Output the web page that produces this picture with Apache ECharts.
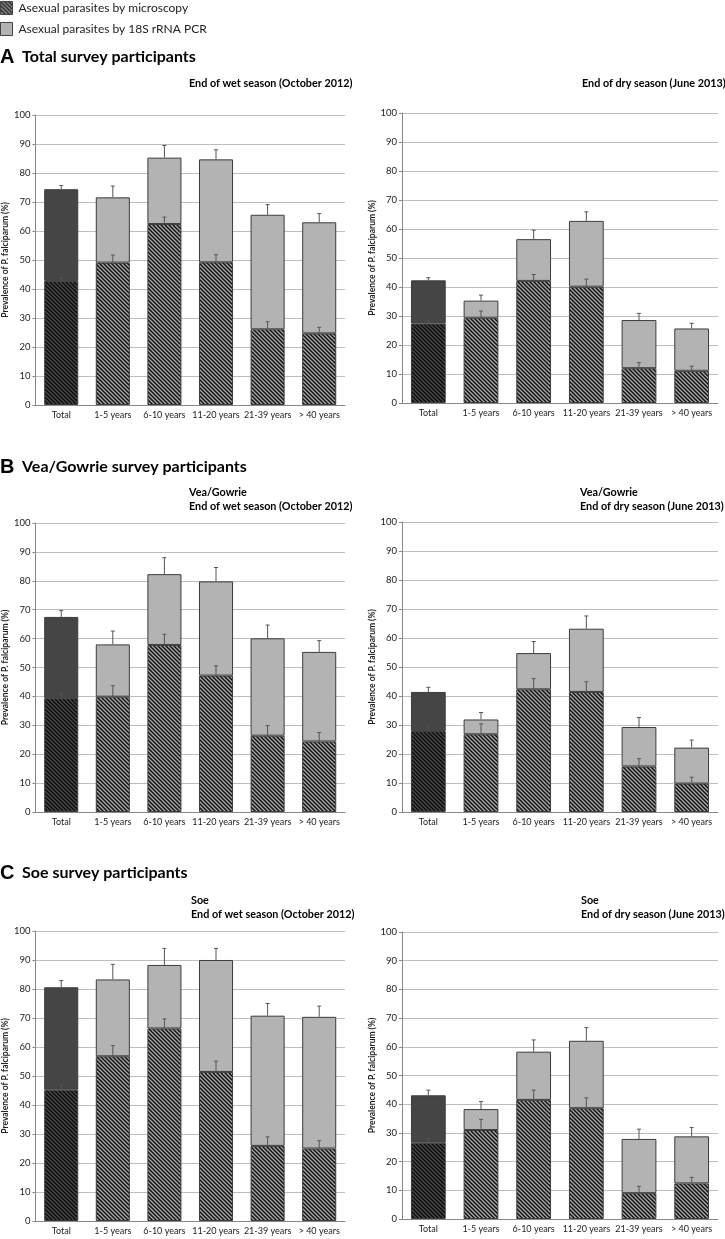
<!DOCTYPE html>
<html>
<head>
<meta charset="utf-8">
<script src="https://cdn.jsdelivr.net/npm/echarts@6/dist/echarts.min.js"></script>
<style>
html,body{margin:0;padding:0;background:#fff;}
#chart{width:725px;height:1239px;}
</style>
</head>
<body>
<div id="chart"></div>
<script>
// ---- Data ----
const categories = ['Total', '1-5 years', '6-10 years', '11-20 years', '21-39 years', '> 40 years'];
const yTicks = [0, 10, 20, 30, 40, 50, 60, 70, 80, 90, 100];

// Panel A: total survey participants
const aWetPcr      = [74.4, 71.6, 85.3, 84.7, 65.6, 63.0];
const aWetMicro    = [42.8, 49.1, 62.4, 49.2, 26.1, 24.7];
const aWetPcrErr   = [75.7, 75.5, 89.5, 88.0, 69.1, 66.0];
const aWetMicroErr = [43.7, 51.7, 64.8, 51.8, 28.7, 26.8];
const aDryPcr      = [42.3, 35.3, 56.5, 62.8, 28.6, 25.7];
const aDryMicro    = [27.4, 29.4, 42.1, 40.1, 12.0, 11.1];
const aDryPcrErr   = [43.2, 37.2, 59.6, 65.9, 30.9, 27.5];
const aDryMicroErr = [28.2, 31.7, 44.3, 42.7, 13.9, 12.7];
// Panel B: Vea/Gowrie
const bWetPcr      = [67.5, 58.0, 82.3, 79.8, 60.1, 55.4];
const bWetMicro    = [39.4, 39.9, 57.8, 47.2, 26.4, 24.4];
const bWetPcrErr   = [69.7, 62.6, 88.0, 84.6, 64.7, 59.3];
const bWetMicroErr = [41.2, 43.7, 61.5, 50.6, 29.9, 27.5];
const bDryPcr      = [41.4, 31.9, 54.8, 63.2, 29.3, 22.2];
const bDryMicro    = [27.9, 26.8, 42.3, 41.4, 15.7, 9.8];
const bDryPcrErr   = [43.0, 34.3, 58.8, 67.6, 32.6, 24.8];
const bDryMicroErr = [29.6, 30.4, 46.0, 44.9, 18.4, 12.0];
// Panel C: Soe
const cWetPcr      = [80.6, 83.3, 88.3, 90.0, 70.8, 70.4];
const cWetMicro    = [45.3, 56.8, 66.4, 51.4, 25.9, 25.0];
const cWetPcrErr   = [82.9, 88.5, 94.0, 94.0, 75.0, 74.1];
const cWetMicroErr = [47.1, 60.5, 69.7, 55.1, 29.0, 27.7];
const cDryPcr      = [43.1, 38.3, 58.3, 62.1, 27.9, 28.8];
const cDryMicro    = [26.6, 31.0, 41.5, 38.6, 9.0, 12.4];
const cDryPcrErr   = [44.9, 40.9, 62.4, 66.7, 31.3, 31.9];
const cDryMicroErr = [28.0, 34.7, 44.9, 42.2, 11.4, 14.5];

const seriesNames = ['Asexual parasites by microscopy', 'Asexual parasites by 18S rRNA PCR'];

// ---- Styling helpers ----
function hatch(bg, fg) {
  const s = 4;
  const c = document.createElement('canvas');
  c.width = s; c.height = s;
  const ctx = c.getContext('2d');
  ctx.fillStyle = bg; ctx.fillRect(0, 0, s, s);
  ctx.strokeStyle = fg; ctx.lineWidth = 1.5;
  [-s, 0, s].forEach(k => {
    ctx.beginPath();
    ctx.moveTo(-1, k - 1);
    ctx.lineTo(s + 1, k + s + 1);
    ctx.stroke();
  });
  return { image: c, repeat: 'repeat' };
}
const FONT = 'Lato';
const hatchLight = hatch('#a9a9a9', '#111111');
const hatchDark = hatch('#4a4a4a', '#0c0c0c');
const pcrLight = '#b3b3b3';
const pcrDark = '#454545';
const borderCol = '#3c3c3c';

const panels = [
  { pcr: aWetPcr, micro: aWetMicro, pcrErr: aWetPcrErr, microErr: aWetMicroErr, grid: { left: 29, top: 115, width: 316, height: 290 } },
  { pcr: aDryPcr, micro: aDryMicro, pcrErr: aDryPcrErr, microErr: aDryMicroErr, grid: { left: 402, top: 113, width: 316, height: 290 } },
  { pcr: bWetPcr, micro: bWetMicro, pcrErr: bWetPcrErr, microErr: bWetMicroErr, grid: { left: 29, top: 523, width: 316, height: 289 } },
  { pcr: bDryPcr, micro: bDryMicro, pcrErr: bDryPcrErr, microErr: bDryMicroErr, grid: { left: 402, top: 522, width: 316, height: 290 } },
  { pcr: cWetPcr, micro: cWetMicro, pcrErr: cWetPcrErr, microErr: cWetMicroErr, grid: { left: 29, top: 931, width: 316, height: 290 } },
  { pcr: cDryPcr, micro: cDryMicro, pcrErr: cDryPcrErr, microErr: cDryMicroErr, grid: { left: 402, top: 932, width: 316, height: 287 } }
];

const grid = [], xAxis = [], yAxis = [], series = [];
panels.forEach((p, i) => {
  grid.push(Object.assign({ containLabel: false }, p.grid));
  xAxis.push({
    type: 'category', gridIndex: i, data: categories,
    axisLine: { show: true, lineStyle: { color: '#888', width: 1 } },
    axisTick: { show: false },
    axisLabel: { color: '#222', fontSize: 9, fontFamily: FONT, margin: 6, interval: 0 }
  });
  yAxis.push({
    type: 'value', gridIndex: i, min: 0, max: 100, interval: 10,
    name: 'Prevalence of P. falciparum (%)', nameLocation: 'middle', nameGap: 19,
    nameTextStyle: { fontSize: 8.5, fontWeight: 'bold', color: '#222', fontFamily: FONT },
    axisLine: { show: true, lineStyle: { color: '#888', width: 1 } },
    axisTick: { show: true, length: 3, lineStyle: { color: '#888' } },
    axisLabel: { color: '#222', fontSize: 9.5, fontFamily: FONT, margin: 5,
      formatter: v => yTicks.includes(v) ? String(v) : '' },
    splitLine: { show: true, lineStyle: { color: '#bdbdbd', width: 1 } }
  });
  const microData = p.micro.map((v, j) => j === 0
    ? { value: v, itemStyle: { color: hatchDark } } : v);
  const pcrData = p.pcr.map((v, j) => {
    const d = +(v - p.micro[j]).toFixed(2);
    return j === 0 ? { value: d, itemStyle: { color: pcrDark } } : d;
  });
  series.push({
    name: seriesNames[0], type: 'bar', xAxisIndex: i, yAxisIndex: i, stack: 's' + i,
    barWidth: '66%', data: microData,
    itemStyle: { color: hatchLight, borderColor: borderCol, borderWidth: 1 }
  });
  series.push({
    name: seriesNames[1], type: 'bar', xAxisIndex: i, yAxisIndex: i, stack: 's' + i,
    barWidth: '66%', data: pcrData,
    itemStyle: { color: pcrLight, borderColor: borderCol, borderWidth: 1 }
  });
  const errData = [];
  p.micro.forEach((v, j) => errData.push([j, v, p.microErr[j]]));
  p.pcr.forEach((v, j) => errData.push([j, v, p.pcrErr[j]]));
  series.push({
    type: 'custom', xAxisIndex: i, yAxisIndex: i, z: 10, silent: true,
    data: errData,
    renderItem: function (params, api) {
      const base = api.coord([api.value(0), api.value(1)]);
      const top = api.coord([api.value(0), api.value(2)]);
      const st = { stroke: '#555', lineWidth: 1 };
      return {
        type: 'group', children: [
          { type: 'line', shape: { x1: base[0], y1: base[1], x2: top[0], y2: top[1] }, style: st },
          { type: 'line', shape: { x1: top[0] - 2, y1: top[1], x2: top[0] + 2, y2: top[1] }, style: st }
        ]
      };
    }
  });
});

const titleStyleBig = { fontSize: 16, fontWeight: 'bold', color: '#000', fontFamily: FONT };
const letterStyle = { fontSize: 20, fontWeight: 'bold', color: '#000', fontFamily: 'Liberation Sans' };
const subStyle = { fontSize: 10.8, fontWeight: 'bold', color: '#000', fontFamily: FONT, lineHeight: 13.5 };

const title = [
  { text: 'A', left: 0, top: 47, textStyle: letterStyle },
  { text: 'Total survey participants', left: 22, top: 49, textStyle: titleStyleBig },
  { text: 'B', left: 0, top: 457, textStyle: letterStyle },
  { text: 'Vea/Gowrie survey participants', left: 22, top: 459, textStyle: titleStyleBig },
  { text: 'C', left: 0, top: 863, textStyle: letterStyle },
  { text: 'Soe survey participants', left: 22, top: 865, textStyle: titleStyleBig },
  { text: 'End of wet season (October 2012)', left: 189, top: 77, textStyle: subStyle },
  { text: 'End of dry season (June 2013)', left: 582, top: 77, textStyle: subStyle },
  { text: 'Vea/Gowrie\nEnd of wet season (October 2012)', left: 189, top: 486, textStyle: subStyle },
  { text: 'Vea/Gowrie\nEnd of dry season (June 2013)', left: 580, top: 486, textStyle: subStyle },
  { text: 'Soe\nEnd of wet season (October 2012)', left: 191, top: 894, textStyle: subStyle },
  { text: 'Soe\nEnd of dry season (June 2013)', left: 581, top: 894, textStyle: subStyle }
].map(t => Object.assign({ padding: 0 }, t));

const chart = echarts.init(document.getElementById('chart'), null, { renderer: 'canvas' });
chart.setOption({
  backgroundColor: '#fff',
  animation: false,
  title: title,
  legend: {
    data: seriesNames.map(n => ({ name: n, icon: 'rect' })),
    orient: 'vertical', left: 0, top: 1, padding: 0,
    itemWidth: 12, itemHeight: 13, itemGap: 7,
    textStyle: { fontSize: 12, color: '#222', fontFamily: FONT, padding: [0, 0, 0, 1] },
    itemStyle: { borderColor: '#444', borderWidth: 1 }
  },
  grid: grid, xAxis: xAxis, yAxis: yAxis, series: series
});
</script>
</body>
</html>
